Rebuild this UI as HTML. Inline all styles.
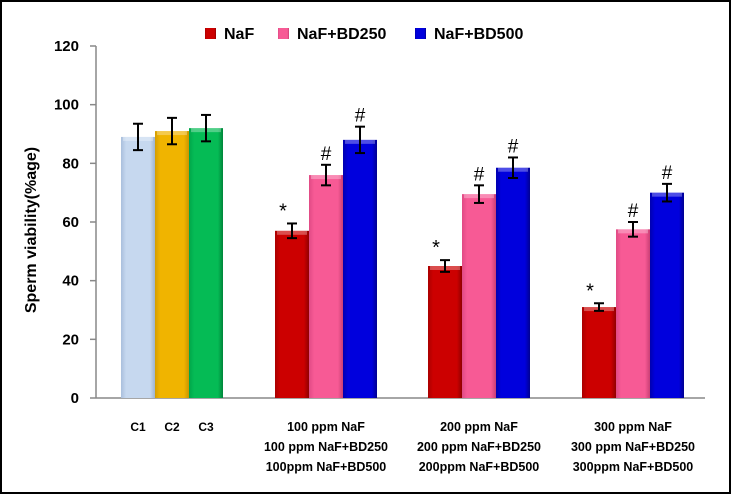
<!DOCTYPE html>
<html><head><meta charset="utf-8"><style>
body{margin:0;background:#fff}
svg{display:block;font-family:"Liberation Sans",sans-serif}
</style></head><body>
<svg width="732" height="495" xmlns="http://www.w3.org/2000/svg">
<defs>
<linearGradient id="gC1" x1="0" x2="1"><stop offset="0" stop-color="#a9bfdc"/><stop offset="0.15" stop-color="#c6d8ef"/><stop offset="0.85" stop-color="#c6d8ef"/><stop offset="1" stop-color="#9fb4cf"/></linearGradient>
<linearGradient id="gC2" x1="0" x2="1"><stop offset="0" stop-color="#d49d00"/><stop offset="0.15" stop-color="#f0b400"/><stop offset="0.85" stop-color="#f0b400"/><stop offset="1" stop-color="#c99500"/></linearGradient>
<linearGradient id="gC3" x1="0" x2="1"><stop offset="0" stop-color="#00a54a"/><stop offset="0.15" stop-color="#05bb55"/><stop offset="0.85" stop-color="#05bb55"/><stop offset="1" stop-color="#00853a"/></linearGradient>
<linearGradient id="g0" x1="0" x2="1"><stop offset="0" stop-color="#aa0000"/><stop offset="0.15" stop-color="#cc0000"/><stop offset="0.85" stop-color="#cc0000"/><stop offset="1" stop-color="#900000"/></linearGradient>
<linearGradient id="g1" x1="0" x2="1"><stop offset="0" stop-color="#e04a85"/><stop offset="0.15" stop-color="#f75a95"/><stop offset="0.85" stop-color="#f75a95"/><stop offset="1" stop-color="#c93f75"/></linearGradient>
<linearGradient id="g2" x1="0" x2="1"><stop offset="0" stop-color="#0000b0"/><stop offset="0.15" stop-color="#0000dd"/><stop offset="0.85" stop-color="#0000dd"/><stop offset="1" stop-color="#000090"/></linearGradient>
</defs>
<rect x="1" y="1" width="729" height="492" fill="#fff" stroke="#000" stroke-width="2"/>
<g id="axes"></g>
<g id="bars"></g>
<g id="legend"></g>
<text transform="translate(36,230) rotate(-90)" text-anchor="middle" font-size="16" font-weight="bold">Sperm viability(%age)</text>
</svg>
<script>
const controlLabels=["C1","C2","C3"];
const controlValues=[89,91,92];
const controlErrors=[4.5,4.5,4.5];
const groupLabels=[["100 ppm NaF","100 ppm NaF+BD250","100ppm NaF+BD500"],["200 ppm NaF","200 ppm NaF+BD250","200ppm NaF+BD500"],["300 ppm NaF","300 ppm NaF+BD250","300ppm NaF+BD500"]];
const seriesNames=["NaF","NaF+BD250","NaF+BD500"];
const naf=[57,45,31];
const nafErr=[2.5,2,1.3];
const bd250=[76,69.5,57.5];
const bd250Err=[3.5,3,2.5];
const bd500=[88,78.5,70];
const bd500Err=[4.5,3.5,3];
const marks=[["*","#","#"],["*","#","#"],["*","#","#"]];
const yTicks=[0,20,40,60,80,100,120];

const NS="http://www.w3.org/2000/svg";
const x0=96,yBase=398,yTop=46,yMax=120,bw=34;
const y=v=>yBase-(v/yMax)*(yBase-yTop);
function mk(tag,attrs,parent,txt){const e=document.createElementNS(NS,tag);for(const k in attrs)e.setAttribute(k,attrs[k]);if(txt!==undefined)e.textContent=txt;parent.appendChild(e);return e;}
const axes=document.getElementById('axes'),bars=document.getElementById('bars'),leg=document.getElementById('legend');
let l=mk('line',{x1:x0,y1:yTop,x2:x0,y2:yBase,stroke:'#888','stroke-width':1.5},axes);


l=mk('line',{x1:x0,y1:yBase,x2:705,y2:yBase,stroke:'#888','stroke-width':1.5},axes);


yTicks.forEach(t=>{
  mk('line',{x1:90,y1:y(t),x2:x0,y2:y(t),stroke:'#888','stroke-width':1.5},axes);
  const tx=mk('text',{x:79,y:y(t)+5,'text-anchor':'end','font-size':15,'font-weight':'bold'},axes,t);
  
  
});
function bar(x,v,e,fill,name){
  const g=mk('g',{},bars);
  
  
  mk('rect',{x:x,y:y(v),width:bw,height:yBase-y(v),fill:fill},g);
  mk('rect',{x:x+2,y:y(v),width:bw-4,height:4,fill:'#fff','fill-opacity':0.3},g);
  mk('line',{x1:x+bw/2,y1:y(v+e),x2:x+bw/2,y2:y(v-e),stroke:'#000','stroke-width':2},g);
  mk('line',{x1:x+bw/2-5,y1:y(v+e),x2:x+bw/2+5,y2:y(v+e),stroke:'#000','stroke-width':2},g);
  mk('line',{x1:x+bw/2-5,y1:y(v-e),x2:x+bw/2+5,y2:y(v-e),stroke:'#000','stroke-width':2},g);
}
const cf=['url(#gC1)','url(#gC2)','url(#gC3)'];
controlValues.forEach((v,i)=>{
  const x=121+i*bw;
  bar(x,v,controlErrors[i],cf[i],'bar-'+controlLabels[i].toLowerCase());
  const t=mk('text',{x:x+bw/2,y:431,'text-anchor':'middle','font-size':12,'font-weight':'bold'},axes,controlLabels[i]);
  
  
});
const series=[naf,bd250,bd500],errs=[nafErr,bd250Err,bd500Err],fills=['url(#g0)','url(#g1)','url(#g2)'];
const gStart=[275,428,582];
gStart.forEach((gx,gi)=>{
  series.forEach((s,si)=>{
    const x=gx+si*bw;
    bar(x,s[gi],errs[si][gi],fills[si],'bar-group'+(gi+1)+'-s'+(si+1));
    const m=mk('text',{x:x+(si==0?8:bw/2),y:y(s[gi]+errs[si][gi])-(si==0?6:5),'text-anchor':'middle','font-size':si==0?20:19},bars,marks[gi][si]);
    
    
  });
  groupLabels[gi].forEach((lab,li)=>{
    const t=mk('text',{x:gx+51,y:431+li*20,'text-anchor':'middle','font-size':12.5,'font-weight':'bold'},axes,lab);
    
    
  });
});
const lx=[205,278,415];
seriesNames.forEach((n,i)=>{
  const g=mk('g',{},leg);
  
  
  mk('rect',{x:lx[i],y:28,width:11,height:11,fill:fills[i]},g);
  mk('text',{x:lx[i]+19,y:39,'font-size':16,'font-weight':'bold'},g,n);
});
</script>
</body></html>
